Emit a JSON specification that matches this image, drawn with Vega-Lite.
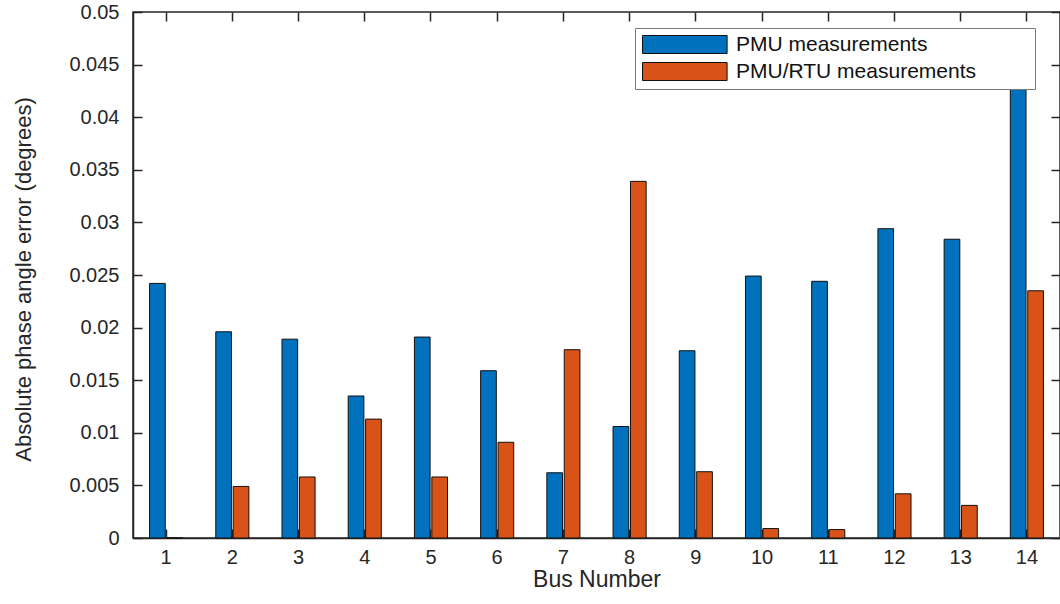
{
  "$schema": "https://vega.github.io/schema/vega-lite/v6.json",
  "width": 927,
  "height": 526,
  "autosize": {"type": "none"},
  "padding": {"left": 133, "top": 12, "right": 0, "bottom": 66},
  "background": "white",
  "config": {
    "font": "Liberation Sans",
    "view": {"stroke": "#262626", "strokeWidth": 1.5},
    "axis": {
      "grid": false,
      "domainColor": "#262626",
      "domainWidth": 1.5,
      "tickColor": "#262626",
      "tickWidth": 1.5,
      "labelColor": "#262626",
      "titleColor": "#262626",
      "labelFont": "Liberation Sans",
      "titleFont": "Liberation Sans",
      "titleFontWeight": "normal"
    },
    "legend": {
      "labelFont": "Liberation Sans"
    }
  },
  "data": {
    "values": [
      {"bus": "1", "series": "PMU measurements", "value": 0.0242},
      {"bus": "1", "series": "PMU/RTU measurements", "value": 0.0},
      {"bus": "2", "series": "PMU measurements", "value": 0.0196},
      {"bus": "2", "series": "PMU/RTU measurements", "value": 0.0049},
      {"bus": "3", "series": "PMU measurements", "value": 0.0189},
      {"bus": "3", "series": "PMU/RTU measurements", "value": 0.0058},
      {"bus": "4", "series": "PMU measurements", "value": 0.0135},
      {"bus": "4", "series": "PMU/RTU measurements", "value": 0.0113},
      {"bus": "5", "series": "PMU measurements", "value": 0.0191},
      {"bus": "5", "series": "PMU/RTU measurements", "value": 0.0058},
      {"bus": "6", "series": "PMU measurements", "value": 0.0159},
      {"bus": "6", "series": "PMU/RTU measurements", "value": 0.0091},
      {"bus": "7", "series": "PMU measurements", "value": 0.0062},
      {"bus": "7", "series": "PMU/RTU measurements", "value": 0.0179},
      {"bus": "8", "series": "PMU measurements", "value": 0.0106},
      {"bus": "8", "series": "PMU/RTU measurements", "value": 0.0339},
      {"bus": "9", "series": "PMU measurements", "value": 0.0178},
      {"bus": "9", "series": "PMU/RTU measurements", "value": 0.0063},
      {"bus": "10", "series": "PMU measurements", "value": 0.0249},
      {"bus": "10", "series": "PMU/RTU measurements", "value": 0.0009},
      {"bus": "11", "series": "PMU measurements", "value": 0.0244},
      {"bus": "11", "series": "PMU/RTU measurements", "value": 0.0008},
      {"bus": "12", "series": "PMU measurements", "value": 0.0294},
      {"bus": "12", "series": "PMU/RTU measurements", "value": 0.0042},
      {"bus": "13", "series": "PMU measurements", "value": 0.0284},
      {"bus": "13", "series": "PMU/RTU measurements", "value": 0.0031},
      {"bus": "14", "series": "PMU measurements", "value": 0.047},
      {"bus": "14", "series": "PMU/RTU measurements", "value": 0.0235}
    ]
  },
  "layer": [
    {
      "mark": {"type": "bar", "stroke": "#111111", "strokeWidth": 1},
      "encoding": {
        "x": {
          "field": "bus",
          "type": "ordinal",
          "sort": ["1","2","3","4","5","6","7","8","9","10","11","12","13","14"],
          "scale": {"paddingInner": 0.5, "paddingOuter": 0.25},
          "axis": {
            "orient": "bottom",
            "title": "Bus Number",
            "labelAngle": 0,
            "labelFontSize": 20,
            "labelPadding": 18,
            "tickSize": -9,
            "titleFontSize": 23,
            "titleBaseline": "alphabetic",
            "titleY": 48
          }
        },
        "xOffset": {
          "field": "series",
          "type": "nominal",
          "scale": {"paddingInner": 0.1, "paddingOuter": 0}
        },
        "y": {
          "field": "value",
          "type": "quantitative",
          "scale": {"domain": [0, 0.05], "nice": false, "zero": true},
          "axis": {
            "orient": "left",
            "title": "Absolute phase angle error (degrees)",
            "values": [0, 0.005, 0.01, 0.015, 0.02, 0.025, 0.03, 0.035, 0.04, 0.045, 0.05],
            "format": ".3~f",
            "labelFontSize": 20,
            "labelPadding": 23,
            "tickSize": -9,
            "titleFontSize": 22,
            "titleBaseline": "bottom",
            "titleX": -98,
            "titleY": 267
          }
        },
        "color": {
          "field": "series",
          "type": "nominal",
          "scale": {"domain": ["PMU measurements", "PMU/RTU measurements"], "range": ["#0072BD", "#D95319"]},
          "legend": {
            "title": null,
            "orient": "none",
            "legendX": 502,
            "legendY": 16,
            "padding": 6,
            "fillColor": "white",
            "strokeColor": "#7a7a7a",
            "labelFontSize": 21,
            "labelLimit": 500,
            "labelColor": "#111111",
            "labelExpr": "datum.label + '\u00a0\u00a0\u00a0\u00a0\u00a0\u00a0\u00a0\u00a0\u00a0\u200b'",
            "symbolType": "M-1,-1H8.4V1H-1Z",
            "symbolSize": 324,
            "symbolStrokeColor": "#111111",
            "symbolStrokeWidth": 1,
            "symbolOpacity": 1,
            "labelOffset": 74,
            "rowPadding": 4
          }
        }
      }
    },
    {
      "mark": {"type": "point", "opacity": 0},
      "encoding": {
        "x": {
          "field": "bus",
          "type": "ordinal",
          "sort": ["1","2","3","4","5","6","7","8","9","10","11","12","13","14"],
          "axis": {"orient": "top", "labels": false, "title": null, "domain": false, "tickSize": -9}
        },
        "y": {
          "field": "value",
          "type": "quantitative",
          "axis": {
            "orient": "right",
            "labels": false,
            "title": null,
            "domain": false,
            "tickSize": -9,
            "values": [0, 0.005, 0.01, 0.015, 0.02, 0.025, 0.03, 0.035, 0.04, 0.045, 0.05]
          }
        }
      }
    }
  ],
  "resolve": {"axis": {"x": "independent", "y": "independent"}}
}
